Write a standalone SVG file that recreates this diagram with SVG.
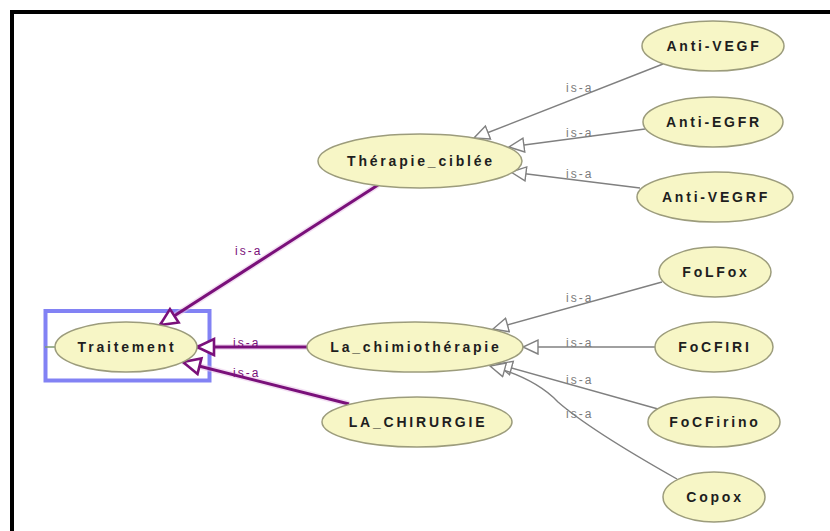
<svg xmlns="http://www.w3.org/2000/svg" width="830" height="531" viewBox="0 0 830 531">
  <style>
    .node ellipse { fill: #f7f6c6; stroke: #9c9c7c; stroke-width: 1.5; }
    .node text { font-family: "Liberation Sans", Arial, sans-serif; font-size: 14px; font-weight: bold; fill: #1e1e1e; text-anchor: middle; letter-spacing: 2.8px; }
    .sub { fill: none; stroke: #808080; stroke-width: 1.4; marker-end: url(#hollow-gray); }
    .main { fill: none; stroke: #7a107a; stroke-width: 3; marker-end: url(#hollow-purple); }
    .halo { fill: none; stroke: #e8c0e8; stroke-width: 6; opacity: 0.5; }
    .lbl { font-family: "Liberation Sans", Arial, sans-serif; font-size: 12px; letter-spacing: 2px; }
    .lbl-gray { fill: #7c7c7c; }
    .lbl-purple { fill: #7a107a; }
  </style>
  <defs>
    <marker id="hollow-gray" markerUnits="userSpaceOnUse" markerWidth="18" markerHeight="18" viewBox="-1 -1 18 18" refX="15" refY="7" orient="auto">
      <path d="M0,0 L15,7 L0,14 Z" fill="#ffffff" stroke="#808080" stroke-width="1.4"/>
    </marker>
    <marker id="hollow-purple" markerUnits="userSpaceOnUse" markerWidth="22" markerHeight="22" viewBox="-2 -2 22 22" refX="17" refY="8" orient="auto">
      <path d="M0,0 L17,8 L0,16 Z" fill="#ffffff" stroke="#7a107a" stroke-width="2.6"/>
    </marker>
  </defs>

  <rect x="0" y="0" width="830" height="531" fill="#ffffff"/>
  <!-- outer frame -->
  <rect x="12" y="12" width="830" height="530" fill="none" stroke="#000000" stroke-width="4"/>

  <!-- selection box around the root class -->
  <rect x="45.5" y="311" width="164" height="69.5" fill="none" stroke="#8282f4" stroke-width="4"/>

  <g id="connectors">
    <line x1="45" y1="347" x2="56" y2="347" stroke="#7f9a70" stroke-width="1.5"/>

    <path class="halo" d="M378,185 L160,325"/>
    <path class="halo" d="M307,347 L197,347"/>
    <path class="halo" d="M349,404 L183,362"/>
    <path class="main" d="M378,185 L160,325"/>
    <path class="main" d="M307,347 L197,347"/>
    <path class="main" d="M349,404 L183,362"/>

    <path class="sub" d="M663,64 L474,138"/>
    <path class="sub" d="M645,129 L509,147"/>
    <path class="sub" d="M640,188 L511,172"/>

    <path class="sub" d="M662,282 L493,329"/>
    <path class="sub" d="M655,347 L523,347"/>
    <path class="sub" d="M658,409 L497,364"/>
    <path class="sub" d="M677,479 Q590,430 558,402 Q535,378 490,366"/>

    <text class="lbl lbl-purple" x="235" y="255">is-a</text>
    <text class="lbl lbl-purple" x="233" y="347">is-a</text>
    <text class="lbl lbl-purple" x="233" y="377">is-a</text>

    <text class="lbl lbl-gray" x="566" y="92">is-a</text>
    <text class="lbl lbl-gray" x="566" y="137">is-a</text>
    <text class="lbl lbl-gray" x="566" y="178">is-a</text>
    <text class="lbl lbl-gray" x="566" y="302">is-a</text>
    <text class="lbl lbl-gray" x="566" y="347">is-a</text>
    <text class="lbl lbl-gray" x="566" y="384">is-a</text>
    <text class="lbl lbl-gray" x="566" y="418">is-a</text>
  </g>

  <g id="traitement" class="node">
    <ellipse cx="126" cy="347" rx="71" ry="25"/>
    <text x="127" y="352">Traitement</text>
  </g>
  <g id="therapie-ciblee" class="node">
    <ellipse cx="420" cy="161" rx="102" ry="27"/>
    <text x="421" y="166">Thérapie_ciblée</text>
  </g>
  <g id="chimiotherapie" class="node">
    <ellipse cx="415" cy="347" rx="108" ry="25"/>
    <text x="416" y="352">La_chimiothérapie</text>
  </g>
  <g id="chirurgie" class="node">
    <ellipse cx="417" cy="422" rx="95" ry="25"/>
    <text x="418" y="427">LA_CHIRURGIE</text>
  </g>
  <g id="anti-vegf" class="node">
    <ellipse cx="713" cy="46" rx="71" ry="25"/>
    <text x="714" y="51">Anti-VEGF</text>
  </g>
  <g id="anti-egfr" class="node">
    <ellipse cx="713" cy="122" rx="70" ry="25"/>
    <text x="714" y="127">Anti-EGFR</text>
  </g>
  <g id="anti-vegrf" class="node">
    <ellipse cx="715" cy="197" rx="78" ry="25"/>
    <text x="716" y="202">Anti-VEGRF</text>
  </g>
  <g id="folfox" class="node">
    <ellipse cx="715" cy="272" rx="56" ry="25"/>
    <text x="716" y="277">FoLFox</text>
  </g>
  <g id="focfiri" class="node">
    <ellipse cx="714" cy="347" rx="59" ry="25"/>
    <text x="715" y="352">FoCFIRI</text>
  </g>
  <g id="focfirino" class="node">
    <ellipse cx="714" cy="422" rx="66" ry="25"/>
    <text x="715" y="427">FoCFirino</text>
  </g>
  <g id="copox" class="node">
    <ellipse cx="714" cy="497" rx="51" ry="25"/>
    <text x="715" y="502">Copox</text>
  </g>
</svg>
